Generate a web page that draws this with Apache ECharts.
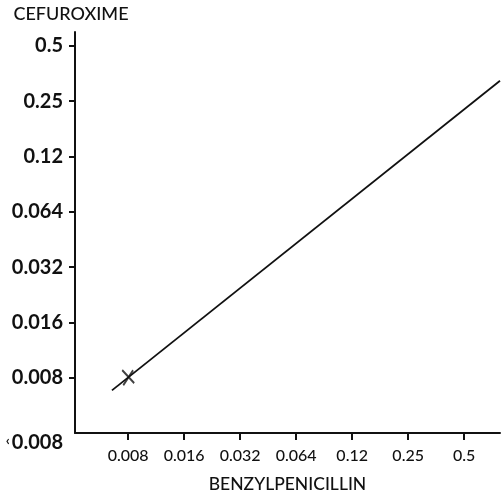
<!DOCTYPE html>
<html>
<head>
<meta charset="utf-8">
<script src="https://cdn.jsdelivr.net/npm/echarts@6/dist/echarts.min.js"></script>
<style>
  html, body { margin: 0; padding: 0; background: #fff; }
  #chart { width: 501px; height: 495px; }
</style>
</head>
<body>
<div id="chart"></div>
<script>
// axes are in doubling-dilution steps: step 0 = 0.008, step 6 = 0.5
const xLabels = ['0.008', '0.016', '0.032', '0.064', '0.12', '0.25', '0.5'];
const yLabels = ['‹0.008', '0.008', '0.016', '0.032', '0.064', '0.12', '0.25', '0.5'];

// regression line (x step, y step)
const lineX = [-0.29, 6.64];
const lineY = [-0.23, 5.37];

// single strain marked with a cross
const markX = [0];
const markY = [0];

const FONT = 'Lato';

const chart = echarts.init(document.getElementById('chart'));

chart.setOption({
  animation: false,
  grid: { left: 75, right: 1, top: 32, bottom: 62, outerBoundsMode: 'none', containLabel: false },
  xAxis: {
    type: 'value',
    min: -0.95,
    max: 6.64,
    name: 'BENZYLPENICILLIN',
    nameLocation: 'middle',
    nameGap: 42,
    nameTextStyle: { color: '#111', fontFamily: FONT, fontSize: 17.5, fontWeight: 500 },
    axisLine: { onZero: false, lineStyle: { color: '#111', width: 2 } },
    axisTick: { show: true, length: 7, inside: false, lineStyle: { color: '#111', width: 2 },
      customValues: xLabels.map((_, i) => i) },
    axisLabel: {
      customValues: xLabels.map((_, i) => i),
      formatter: (v) => xLabels[Math.round(v)] || '',
      color: '#111', fontFamily: FONT, fontSize: 16, fontWeight: 500, margin: 15
    },
    splitLine: { show: false }
  },
  yAxis: {
    type: 'value',
    min: -1,
    max: 6.25,
    interval: 1,
    name: 'CEFUROXIME',
    nameLocation: 'end',
    nameGap: 9,
    nameTextStyle: { color: '#111', fontFamily: FONT, fontSize: 18, fontWeight: 500, align: 'center', padding: [0, 8, 0, 0] },
    axisLine: { show: true, onZero: false, lineStyle: { color: '#111', width: 2 } },
    axisTick: { show: true, length: 6, lineStyle: { color: '#111', width: 2 },
      customValues: [0, 1, 2, 3, 4, 5, 6] },
    axisLabel: {
      formatter: (v) => {
        const s = yLabels[Math.round(v) + 1] || '';
        return v < 0 ? '{lt|' + s.charAt(0) + '}{low|' + s.slice(1) + '}' : s;
      },
      color: '#111', fontFamily: FONT, fontSize: 20, fontWeight: 'bold', margin: 12,
      rich: {
        lt: { color: '#111', fontFamily: FONT, fontSize: 14, fontWeight: 'bold', padding: [14, 2, 0, 0] },
        low: { color: '#111', fontFamily: FONT, fontSize: 20, fontWeight: 'bold', padding: [20, 0, 0, 0] }
      }
    },
    splitLine: { show: false }
  },
  series: [
    {
      type: 'line',
      data: lineX.map((x, i) => [x, lineY[i]]),
      symbol: 'none',
      lineStyle: { color: '#111', width: 1.8 }
    },
    {
      type: 'scatter',
      data: markX.map((x, i) => [x, markY[i]]),
      symbol: 'path://M0,0L11,13M10,0L1,15',
      symbolSize: [12, 15],
      itemStyle: { color: 'rgba(0,0,0,0)', borderColor: '#111', borderWidth: 2 }
    }
  ]
});
</script>
</body>
</html>
